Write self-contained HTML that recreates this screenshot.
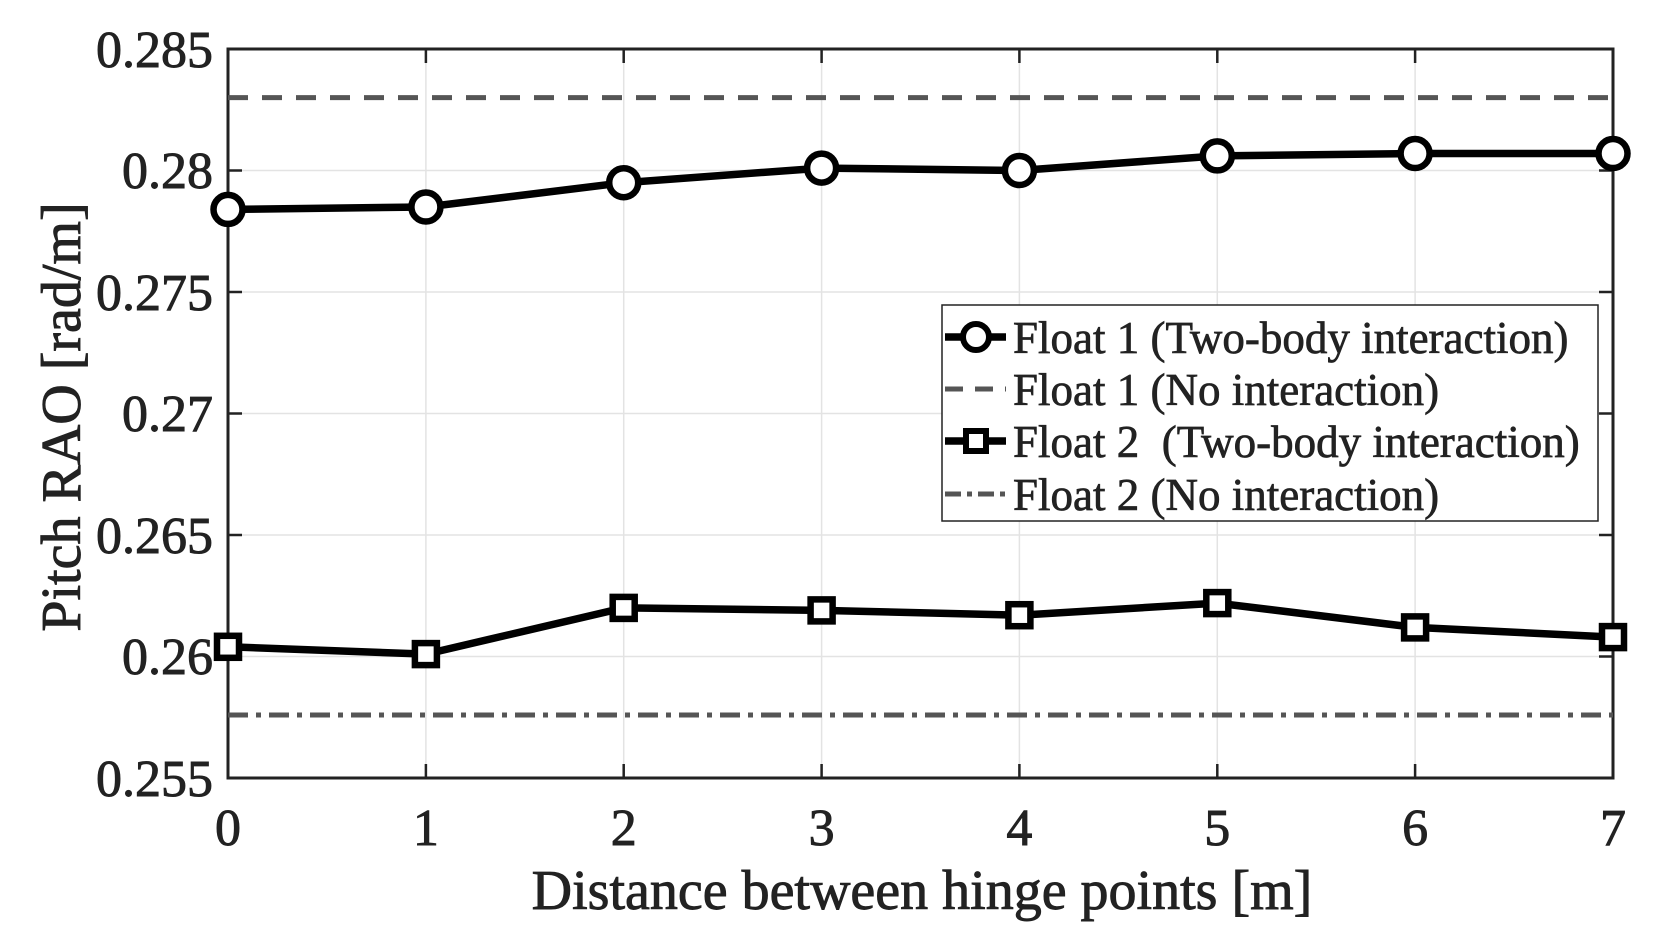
<!DOCTYPE html>
<html><head><style>html,body{margin:0;padding:0;background:#fff}</style></head><body>
<svg width="1675" height="945" xmlns="http://www.w3.org/2000/svg" font-family="'Liberation Serif',serif" fill="#222">
<g stroke="#e3e3e3" stroke-width="1.5">
<line x1="425.9" y1="49" x2="425.9" y2="778"/><line x1="623.7" y1="49" x2="623.7" y2="778"/><line x1="821.6" y1="49" x2="821.6" y2="778"/><line x1="1019.4" y1="49" x2="1019.4" y2="778"/><line x1="1217.3" y1="49" x2="1217.3" y2="778"/><line x1="1415.1" y1="49" x2="1415.1" y2="778"/>
<line x1="228" y1="170.5" x2="1613" y2="170.5"/><line x1="228" y1="292" x2="1613" y2="292"/><line x1="228" y1="413.5" x2="1613" y2="413.5"/><line x1="228" y1="535" x2="1613" y2="535"/><line x1="228" y1="656.5" x2="1613" y2="656.5"/>
</g>
<g stroke="#222" stroke-width="2.5">
<path d="M425.9 778v-14M623.7 778v-14M821.6 778v-14M1019.4 778v-14M1217.3 778v-14M1415.1 778v-14M425.9 49v14M623.7 49v14M821.6 49v14M1019.4 49v14M1217.3 49v14M1415.1 49v14"/>
<path d="M228 170.5h14M228 292h14M228 413.5h14M228 535h14M228 656.5h14M1613 170.5h-14M1613 292h-14M1613 413.5h-14M1613 535h-14M1613 656.5h-14"/>
<rect x="228" y="49" width="1385" height="729" fill="none" stroke-width="3"/>
</g>
<line x1="228" y1="97.6" x2="1613" y2="97.6" stroke="#555" stroke-width="5" stroke-dasharray="20,14"/>
<line x1="228" y1="715" x2="1613" y2="715" stroke="#555" stroke-width="5" stroke-dasharray="20,8,5,8"/>
<g fill="none" stroke="#000" stroke-width="7.5">
<polyline points="228,209.4 425.9,207 623.7,182.7 821.6,168.1 1019.4,170.5 1217.3,155.9 1415.1,153.5 1613,153.5"/>
<polyline points="228,646.8 425.9,654.1 623.7,607.9 821.6,610.4 1019.4,615.2 1217.3,603.1 1415.1,627.4 1613,637.1"/>
</g>
<g fill="#fff" stroke="#000" stroke-width="6.5">
<circle cx="228" cy="209.4" r="14.5"/><circle cx="425.9" cy="207" r="14.5"/><circle cx="623.7" cy="182.7" r="14.5"/><circle cx="821.6" cy="168.1" r="14.5"/><circle cx="1019.4" cy="170.5" r="14.5"/><circle cx="1217.3" cy="155.9" r="14.5"/><circle cx="1415.1" cy="153.5" r="14.5"/><circle cx="1613" cy="153.5" r="14.5"/>
<rect x="217" y="635.8" width="22" height="22"/><rect x="414.9" y="643.1" width="22" height="22"/><rect x="612.7" y="596.9" width="22" height="22"/><rect x="810.6" y="599.4" width="22" height="22"/><rect x="1008.4" y="604.2" width="22" height="22"/><rect x="1206.3" y="592.1" width="22" height="22"/><rect x="1404.1" y="616.4" width="22" height="22"/><rect x="1602" y="626.1" width="22" height="22"/>
</g>
<g stroke="#222" stroke-width="0.9">
<g font-size="52" text-anchor="end">
<text x="213" y="67">0.285</text><text x="213" y="188">0.28</text><text x="213" y="310">0.275</text><text x="213" y="431">0.27</text><text x="213" y="553">0.265</text><text x="213" y="674">0.26</text><text x="213" y="796">0.255</text>
</g>
<g font-size="52" text-anchor="middle">
<text x="228" y="845">0</text><text x="425.9" y="845">1</text><text x="623.7" y="845">2</text><text x="821.6" y="845">3</text><text x="1019.4" y="845">4</text><text x="1217.3" y="845">5</text><text x="1415.1" y="845">6</text><text x="1613" y="845">7</text>
</g>
<text x="922" y="909" font-size="56" text-anchor="middle">Distance between hinge points [m]</text>
<text transform="translate(80,417) rotate(-90)" font-size="56" text-anchor="middle">Pitch RAO [rad/m]</text>
</g>
<rect x="942" y="305" width="656" height="216" fill="#fff" stroke="#222" stroke-width="1.5"/>
<line x1="945" y1="337" x2="1006" y2="337" stroke="#000" stroke-width="7.5"/><circle cx="976" cy="337" r="13" fill="#fff" stroke="#000" stroke-width="6"/>
<line x1="945" y1="389" x2="1006" y2="389" stroke="#555" stroke-width="5" stroke-dasharray="18,12"/>
<line x1="945" y1="441" x2="1006" y2="441" stroke="#000" stroke-width="7.5"/><rect x="966" y="431" width="20" height="20" fill="#fff" stroke="#000" stroke-width="6"/>
<line x1="945" y1="494" x2="1006" y2="494" stroke="#555" stroke-width="5" stroke-dasharray="16,6,5,6"/>
<g font-size="45" stroke="#222" stroke-width="0.7">
<text x="1013" y="353">Float 1 (Two-body interaction)</text>
<text x="1013" y="405">Float 1 (No interaction)</text>
<text x="1013" y="457" xml:space="preserve">Float 2  (Two-body interaction)</text>
<text x="1013" y="510">Float 2 (No interaction)</text>
</g>
</svg>
</body></html>
